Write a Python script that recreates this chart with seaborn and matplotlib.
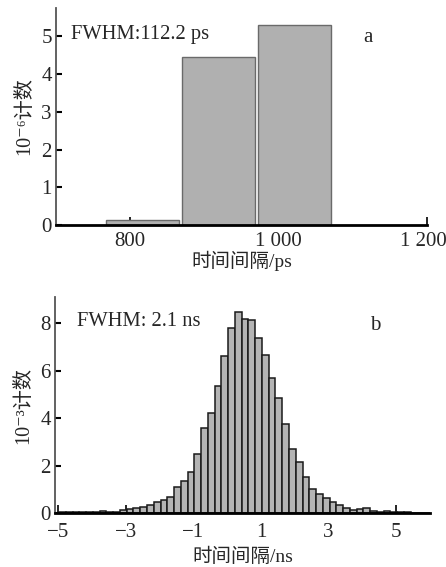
import numpy as np
import pandas as pd
import seaborn as sns
import matplotlib
matplotlib.use("Agg")
import matplotlib.pyplot as plt
from matplotlib.transforms import ScaledTranslation

# panel a: three wide bins (ps)
a_edges = [766, 868, 970, 1072]
a_counts = [0.12, 4.44, 5.30]
a_xticks = [800, 1000, 1200]
a_xticklabels = ["800", "1 000", "1 200"]
a_yticks = [0, 1, 2, 3, 4, 5]

# panel b: 0.2 ns bins starting at -4.97 ns
b_start = -4.97
b_width = 0.2
b_counts = [0.03, 0.03, 0.04, 0.04, 0.04, 0.04, 0.10, 0.06, 0.06, 0.12,
            0.17, 0.21, 0.27, 0.32, 0.45, 0.54, 0.66, 1.08, 1.33, 1.74,
            2.48, 3.59, 4.20, 5.35, 6.62, 7.79, 8.45, 8.17, 8.14, 7.37,
            6.66, 5.68, 4.83, 3.77, 2.68, 2.13, 1.51, 1.02, 0.78, 0.64,
            0.46, 0.32, 0.20, 0.11, 0.17, 0.19, 0.08, 0.05, 0.08, 0.06,
            0.06, 0.06, 0.02, 0.02, 0.02]
b_xticks = [-5, -3, -1, 1, 3, 5]
b_yticks = [0, 2, 4, 6, 8]

sns.set_theme(style="ticks")
fonts = ["Liberation Serif", "Noto Sans CJK SC", "DejaVu Sans"]
plt.rcParams["font.family"] = fonts
plt.rcParams["axes.unicode_minus"] = True

fig = plt.figure(figsize=(4.46, 5.67), dpi=100)
ax1 = fig.add_axes([56 / 446, 342 / 567, 371 / 446, 217 / 567])
ax2 = fig.add_axes([55 / 446, 54 / 567, 375 / 446, 216 / 567])

df_a = pd.DataFrame({
    "t": [(a_edges[i] + a_edges[i + 1]) / 2 for i in range(len(a_counts))],
    "n": a_counts,
})
sns.histplot(data=df_a, x="t", weights="n", bins=a_edges, shrink=0.965,
             color="#b0b0b0", edgecolor="#6a6a6a", linewidth=1.0, alpha=1,
             ax=ax1)

b_edges = [float(e) for e in b_start + b_width * np.arange(len(b_counts) + 1)]
df_b = pd.DataFrame({
    "t": [b_start + b_width * (i + 0.5) for i in range(len(b_counts))],
    "n": b_counts,
})
sns.histplot(data=df_b, x="t", weights="n", bins=b_edges,
             color="#b4b4b4", edgecolor="#1a1a1a", linewidth=1.1, alpha=1,
             ax=ax2)

ax1.set_xlim(700, 1200)
ax1.set_ylim(0, 5.75)
ax1.set_xticks(a_xticks)
ax1.set_xticklabels(a_xticklabels)
ax1.set_yticks(a_yticks)

ax2.set_xlim(-5.09, 6.0)
ax2.set_ylim(0, 9.1)
ax2.set_xticks(b_xticks)
ax2.set_yticks(b_yticks)

for ax, yl in [(ax1, "10⁻⁶计数"), (ax2, "10⁻³计数")]:
    sns.despine(ax=ax)
    ax.spines["left"].set_color("#555555")
    ax.spines["left"].set_linewidth(1.3)
    ax.spines["bottom"].set_color("black")
    ax.spines["bottom"].set_linewidth(2.0)
    ax.tick_params(axis="y", direction="in", length=4, width=1.5, color="black",
                   labelsize=15, pad=3)
    ax.set_ylabel(yl, fontsize=14.5, labelpad=5)
    ax.set_facecolor("white")

ax1.tick_params(axis="x", direction="in", length=6, width=1.2, color="black",
                labelsize=15, pad=5)
ax2.tick_params(axis="x", direction="in", length=6, width=1.2, color="black",
                labelsize=15, pad=7)
ax1.set_xlabel("时间间隔/ps", fontsize=14, labelpad=0)
ax2.set_xlabel("时间间隔/ns", fontsize=14, labelpad=4)

# keep the last tick label of panel a inside the canvas
last = ax1.get_xticklabels()[-1]
last.set_transform(last.get_transform() + ScaledTranslation(-4 / 100, 0, fig.dpi_scale_trans))

ax1.text(720, 5.05, "FWHM:112.2 ps", fontsize=14.8, ha="left", va="center")
ax1.text(1120, 4.97, "a", fontsize=15, ha="center", va="center")
ax2.text(-4.44, 8.06, "FWHM: 2.1 ns", fontsize=14.8, ha="left", va="center")
ax2.text(4.38, 7.9, "b", fontsize=15, ha="center", va="center")

fig.savefig("out.png", dpi=100, facecolor="white")
